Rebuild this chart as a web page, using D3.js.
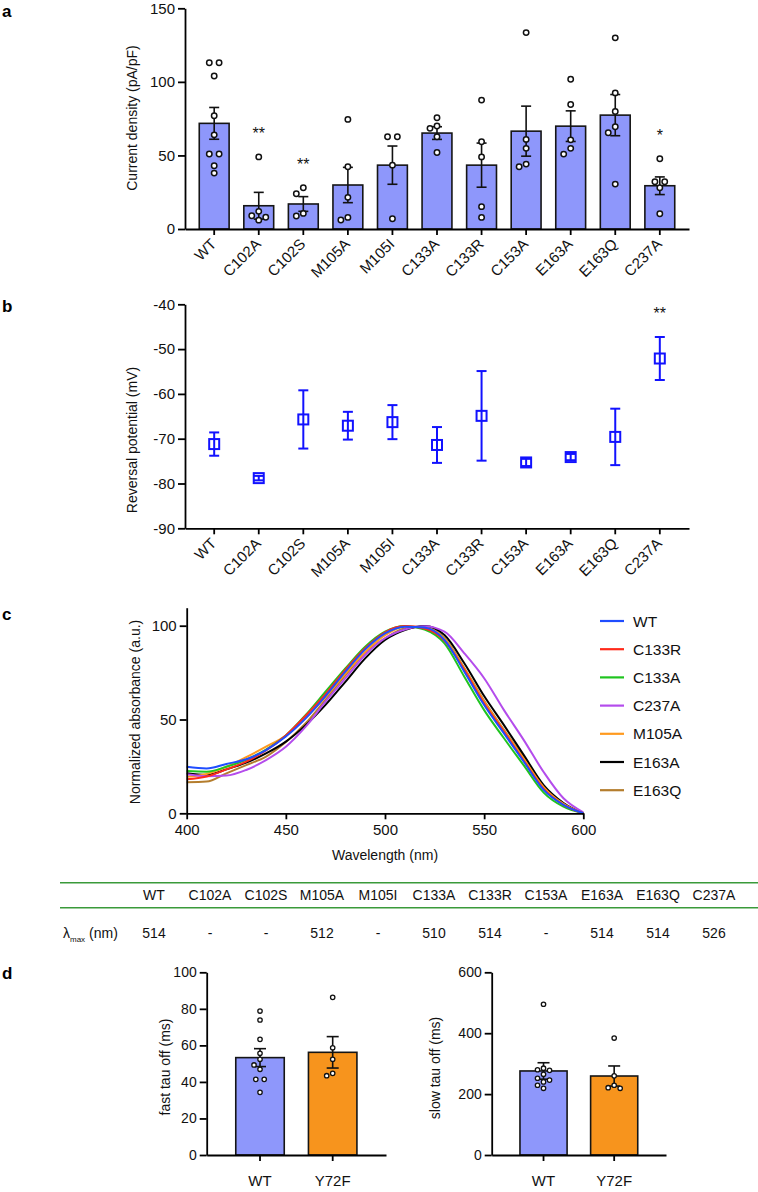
<!DOCTYPE html>
<html lang="en">
<head>
<meta charset="UTF-8">
<title>mutant_currents</title>
<style>
    body { margin: 0; background: #fff; }
    svg text { font-family: "Liberation Sans", Arial, Helvetica, sans-serif; fill: #111; }
</style>
</head>
<body>
<div id="figure"></div>
<script src="https://d3js.org/d3.v7.min.js"></script>
<script>
// ---------- data ----------
var mutants = ["WT", "C102A", "C102S", "M105A", "M105I", "C133A", "C133R", "C153A", "E163A", "E163Q", "C237A"];

// panel a: current density (pA/pF)
var densityMean = [71.8, 15.8, 17.0, 29.9, 43.4, 65.2, 43.4, 66.5, 69.9, 77.4, 29.4];
var densitySem  = [10.8, 9.1, 5.0, 12.0, 13.0, 4.3, 15.0, 17.0, 10.4, 14.0, 6.0];
var densityPoints = [
    [113, 113, 104, 77, 64, 51, 51, 43, 38],
    [49, 12, 9, 8, 6],
    [28, 24, 10.6, 8.8],
    [74.5, 42.3, 21.5, 7.9, 6.1],
    [62.7, 62.7, 43.4, 7],
    [75.6, 70, 68.4, 62.7, 52],
    [87.6, 59.3, 49, 15.2, 7.9],
    [133.5, 60.9, 54.8, 44.1, 42.3],
    [101.8, 84.6, 60.6, 54.8, 50.9],
    [129.9, 92.5, 79.9, 69.5, 65.4, 30.5],
    [47.7, 32.1, 32.1, 28, 10.4]
];
var densitySig = ["", "**", "**", "", "", "", "", "", "", "", "*"];

// panel b: reversal potential (mV)
var revMean = [-71.2, -78.8, -65.7, -67.1, -66.3, -71.4, -64.9, -75.3, -74.1, -69.6, -52.1];
var revSem  = [2.6, 0.5, 6.5, 3.1, 3.8, 4.0, 10.0, 0.8, 0.7, 6.3, 4.8];
var revSig  = ["", "", "", "", "", "", "", "", "", "", "**"];

// panel c: normalized absorbance spectra
var wavelengths = [400, 410, 420, 430, 440, 450, 460, 470, 480, 490, 500, 510, 520, 530, 540, 550, 560, 570, 580, 590, 600];
var absWT    = [24.8, 23.9, 26.3, 28.8, 33.7, 40.9, 50.6, 62.5, 75.5, 87.4, 95.9, 99.5, 99.0, 92.4, 75.5, 57.7, 42.6, 27.5, 12.5, 4.5, 0];
var absC133R = [18.1, 19.6, 23.4, 27.5, 33.5, 41.5, 52.0, 63.5, 76.5, 88.0, 96.5, 99.8, 98.5, 92.0, 76.5, 58.5, 43.5, 28.0, 13.0, 4.5, 0];
var absC133A = [22.5, 22.2, 24.8, 28.5, 34.0, 41.5, 52.4, 64.8, 77.2, 88.8, 96.8, 99.9, 98.0, 90.6, 72.8, 55.0, 40.0, 25.5, 11.0, 3.5, 0];
var absC237A = [20.8, 19.8, 20.1, 23.1, 28.4, 35.5, 46.2, 59.5, 71.9, 84.4, 93.3, 98.0, 99.7, 96.8, 85.3, 72.0, 55.0, 39.0, 22.0, 8.0, 0.5];
var absM105A = [19.5, 21.0, 24.8, 29.9, 35.5, 41.5, 51.0, 62.0, 74.5, 86.0, 95.0, 99.5, 99.0, 93.0, 77.0, 59.5, 44.0, 29.0, 14.0, 5.0, 0];
var absE163A = [21.3, 20.4, 23.4, 27.0, 31.9, 38.2, 47.0, 57.8, 70.1, 82.6, 92.4, 97.7, 99.8, 95.0, 80.0, 62.5, 47.0, 31.0, 15.0, 5.5, 0];
var absE163Q = [16.5, 16.9, 21.3, 25.7, 30.2, 38.0, 48.0, 60.5, 73.5, 85.5, 93.3, 98.5, 99.3, 93.5, 77.5, 60.0, 44.5, 29.5, 14.0, 5.0, 0];
var spectrumNames = ["WT", "C133R", "C133A", "C237A", "M105A", "E163A", "E163Q"];
var spectrumValues = [absWT, absC133R, absC133A, absC237A, absM105A, absE163A, absE163Q];
var spectrumColors = ["#1f4dff", "#ff2a1a", "#1fc41f", "#b44cec", "#ff9a1f", "#000000", "#b47d2d"];

// table: lambda max (nm)
var lambdaMax = ["514", "-", "-", "512", "-", "510", "514", "-", "514", "514", "526"];

// panel d: tau off (ms)
var tauGroups = ["WT", "Y72F"];
var tauColors = ["#8e97fb", "#f7941d"];
var fastMean = [53.3, 56.2];
var fastSem  = [4.9, 8.6];
var fastPoints = [
    [78.8, 73.9, 63.3, 55.7, 52.4, 49.3, 46.9, 41.4, 41.4, 34.3],
    [86.3, 58.7, 52.4, 44.7, 43.4]
];
var slowMean = [276, 259.4];
var slowSem  = [27, 33];
var slowPoints = [
    [495, 285, 280, 278, 265, 252, 246, 240, 229, 219],
    [384, 260, 229, 221, 219]
];

// ---------- drawing ----------
var svg = d3.select("#figure").append("svg")
    .attr("width", 758)
    .attr("height", 1192);

// plain hyphen for negative ticks, like the original
var plainFormat = function(d) { return String(d); };

function panelLetter(letter, y) {
    svg.append("text")
        .attr("x", 2)
        .attr("y", y)
        .style("font-size", "17px")
        .style("font-weight", "bold")
        .style("fill", "#000")
        .text(letter);
}

function axisTitle(text, cx, cy, rotate) {
    svg.append("text")
        .attr("transform", "translate(" + cx + "," + cy + ")" + (rotate ? " rotate(-90)" : ""))
        .attr("text-anchor", "middle")
        .attr("dy", "0.35em")
        .style("font-size", "14px")
        .text(text);
}

function styleAxis(ax, fontSize) {
    ax.attr("font-family", null).attr("font-size", null);
    ax.select(".domain").attr("stroke", "#000").attr("stroke-width", 1.8);
    ax.selectAll(".tick line").attr("stroke", "#000").attr("stroke-width", 1.8);
    ax.selectAll(".tick text").style("font-size", fontSize + "px").attr("fill", "#111");
}

// horizontal spread of the dots so they do not sit on top of each other
function spread(values, y, step, minDist) {
    var placed = [];
    return values.map(function(v, i) {
        var py = y(v);
        var same = values.filter(function(w) { return w === v; }).length;
        var dx;
        if (same > 1) {
            var k = values.slice(0, i).filter(function(w) { return w === v; }).length;
            dx = (k - (same - 1) / 2) * step * 1.4;
        } else {
            var tries = [0, -step, step, -2 * step, 2 * step, -3 * step, 3 * step];
            dx = tries.find(function(t) {
                return placed.every(function(p) { return Math.hypot(p.dx - t, p.py - py) >= minDist; });
            });
            if (dx === undefined) dx = 0;
        }
        placed.push({dx: dx, py: py});
        return {v: v, dx: dx};
    });
}

function rotatedLabels(ax) {
    ax.selectAll(".tick text").remove();
    ax.selectAll(".tick").append("text")
        .attr("transform", "translate(3,16) rotate(-45)")
        .attr("text-anchor", "end")
        .style("font-size", "15px")
        .attr("fill", "#111")
        .text(function(d) { return d; });
}

// bar + dots chart (used for a and d)
function barChart(cfg) {
    var x = d3.scaleBand().domain(cfg.cats).range(cfg.xRange)
        .paddingInner(cfg.padIn).paddingOuter(cfg.padOut);
    var y = d3.scaleLinear().domain(cfg.yDomain).range(cfg.yRange);
    var g = svg.append("g");

    g.selectAll("rect.bar")
        .data(cfg.cats)
        .enter().append("rect")
        .attr("x", function(d) { return x(d); })
        .attr("y", function(d, i) { return y(cfg.mean[i]); })
        .attr("width", x.bandwidth())
        .attr("height", function(d, i) { return y(0) - y(cfg.mean[i]); })
        .attr("fill", function(d, i) { return cfg.fill[i % cfg.fill.length]; })
        .attr("stroke", "#151515")
        .attr("stroke-width", 1.6);

    // error bars (mean +/- sem)
    cfg.cats.forEach(function(c, i) {
        var cx = x(c) + x.bandwidth() / 2;
        var top = y(cfg.mean[i] + cfg.sem[i]), bot = y(cfg.mean[i] - cfg.sem[i]);
        g.append("line").attr("x1", cx).attr("x2", cx).attr("y1", top).attr("y2", bot)
            .attr("stroke", "#111").attr("stroke-width", 1.6);
        [top, bot].forEach(function(yy) {
            g.append("line").attr("x1", cx - cfg.cap).attr("x2", cx + cfg.cap)
                .attr("y1", yy).attr("y2", yy)
                .attr("stroke", "#111").attr("stroke-width", 1.6);
        });
    });

    // individual cells
    cfg.cats.forEach(function(c, i) {
        var cx = x(c) + x.bandwidth() / 2;
        g.selectAll(null)
            .data(spread(cfg.points[i], y, cfg.step, cfg.minDist))
            .enter().append("circle")
            .attr("cx", function(d) { return cx + d.dx; })
            .attr("cy", function(d) { return y(d.v); })
            .attr("r", cfg.r)
            .attr("fill", "#fff")
            .attr("stroke", "#111")
            .attr("stroke-width", cfg.dotStroke);
    });

    // significance marks
    if (cfg.sig) {
        cfg.cats.forEach(function(c, i) {
            if (!cfg.sig[i]) return;
            var topVal = Math.max(d3.max(cfg.points[i]), cfg.mean[i] + cfg.sem[i]);
            g.append("text")
                .attr("x", x(c) + x.bandwidth() / 2)
                .attr("y", y(topVal) - 18)
                .attr("text-anchor", "middle")
                .style("font-size", "16px")
                .text(cfg.sig[i]);
        });
    }

    var yAx = svg.append("g")
        .attr("transform", "translate(" + cfg.xRange[0] + ",0)")
        .call(d3.axisLeft(y).tickValues(cfg.yTicks).tickFormat(plainFormat).tickSize(7).tickSizeOuter(0));
    styleAxis(yAx, cfg.tickFont);

    var xAx = svg.append("g")
        .attr("transform", "translate(0," + cfg.yRange[0] + ")")
        .call(d3.axisBottom(x).tickSize(6).tickSizeOuter(0));
    styleAxis(xAx, cfg.tickFont);
    if (cfg.rotate) rotatedLabels(xAx);
    else xAx.selectAll(".tick text").attr("y", 20).style("font-size", "15px");
}

// ---------- panel a ----------
panelLetter("a", 17);
barChart({
    cats: mutants, mean: densityMean, sem: densitySem, points: densityPoints, sig: densitySig,
    xRange: [185, 689], padIn: 0.33, padOut: 0.32,
    yDomain: [0, 150], yRange: [229, 8.3], yTicks: [0, 50, 100, 150],
    fill: ["#8e97fb"], cap: 5, r: 2.7, dotStroke: 1.5, step: 7, minDist: 7,
    tickFont: 15, rotate: true
});
axisTitle("Current density (pA/pF)", 132, 118, true);

// ---------- panel b ----------
panelLetter("b", 312);
var xB = d3.scaleBand().domain(mutants).range([185, 689]).paddingInner(0.33).paddingOuter(0.32);
var yB = d3.scaleLinear().domain([-90, -40]).range([528.3, 304.3]);
var blue = "#1212ff";
var gB = svg.append("g");
mutants.forEach(function(m, i) {
    var cx = xB(m) + xB.bandwidth() / 2;
    var top = yB(revMean[i] + revSem[i]), bot = yB(revMean[i] - revSem[i]);
    gB.append("line").attr("x1", cx).attr("x2", cx).attr("y1", top).attr("y2", bot)
        .attr("stroke", blue).attr("stroke-width", 2);
    [top, bot].forEach(function(yy) {
        gB.append("line").attr("x1", cx - 5).attr("x2", cx + 5).attr("y1", yy).attr("y2", yy)
            .attr("stroke", blue).attr("stroke-width", 2);
    });
    gB.append("rect")
        .attr("x", cx - 5).attr("y", yB(revMean[i]) - 5)
        .attr("width", 10).attr("height", 10)
        .attr("fill", "none").attr("stroke", blue).attr("stroke-width", 2);
    if (revSig[i]) {
        gB.append("text").attr("x", cx).attr("y", top - 18)
            .attr("text-anchor", "middle").style("font-size", "16px").text(revSig[i]);
    }
});
var yBAx = svg.append("g").attr("transform", "translate(185,0)")
    .call(d3.axisLeft(yB).tickValues([-90, -80, -70, -60, -50, -40]).tickFormat(plainFormat).tickSize(7).tickSizeOuter(0));
styleAxis(yBAx, 15);
var xBAx = svg.append("g").attr("transform", "translate(0,528.3)")
    .call(d3.axisBottom(xB).tickSize(6).tickSizeOuter(0));
styleAxis(xBAx, 15);
rotatedLabels(xBAx);
axisTitle("Reversal potential (mV)", 132, 440, true);

// ---------- panel c ----------
panelLetter("c", 620);
var xC = d3.scaleLinear().domain([400, 600]).range([186.7, 583.3]);
var yC = d3.scaleLinear().domain([0, 109.6]).range([813.3, 607.7]);
var line = d3.line()
    .x(function(d) { return xC(d[0]); })
    .y(function(d) { return yC(d[1]); })
    .curve(d3.curveMonotoneX);
// draw in reverse so WT ends up on top
for (var s = spectrumNames.length - 1; s >= 0; s--) {
    svg.append("path")
        .datum(wavelengths.map(function(w, j) { return [w, spectrumValues[s][j]]; }))
        .attr("d", line)
        .attr("fill", "none")
        .attr("stroke", spectrumColors[s])
        .attr("stroke-width", 2);
}
var yCAx = svg.append("g").attr("transform", "translate(186.7,0)")
    .call(d3.axisLeft(yC).tickValues([0, 50, 100]).tickFormat(plainFormat).tickSize(7).tickSizeOuter(0));
styleAxis(yCAx, 15);
var xCAx = svg.append("g").attr("transform", "translate(0,813.3)")
    .call(d3.axisBottom(xC).tickValues([400, 450, 500, 550, 600]).tickFormat(plainFormat).tickSize(6).tickSizeOuter(0));
styleAxis(xCAx, 15);
xCAx.selectAll(".tick text").attr("y", 11);
axisTitle("Normalized absorbance (a.u.)", 135, 712, true);
axisTitle("Wavelength (nm)", 385, 855, false);

// legend
var legend = svg.append("g").attr("transform", "translate(600,621)");
spectrumNames.forEach(function(n, i) {
    var row = legend.append("g").attr("transform", "translate(0," + (i * 28.2) + ")");
    row.append("line").attr("x1", 0).attr("x2", 24).attr("y1", 0).attr("y2", 0)
        .attr("stroke", spectrumColors[i]).attr("stroke-width", 2.2);
    row.append("text").attr("x", 33).attr("dy", "0.36em")
        .style("font-size", "15.5px").text(n);
});

// ---------- lambda max table ----------
var tableX = d3.scalePoint().domain(mutants).range([154, 714]);
var green = "#3a9a3a";
[882.7, 907.7].forEach(function(yy) {
    svg.append("line").attr("x1", 60).attr("x2", 758).attr("y1", yy).attr("y2", yy)
        .attr("stroke", green).attr("stroke-width", 1.6);
});
svg.selectAll("text.colhead")
    .data(mutants)
    .enter().append("text")
    .attr("x", function(d) { return tableX(d); })
    .attr("y", 900)
    .attr("text-anchor", "middle")
    .style("font-size", "14px")
    .text(function(d) { return d; });
svg.selectAll("text.lmax")
    .data(lambdaMax)
    .enter().append("text")
    .attr("x", function(d, i) { return tableX(mutants[i]); })
    .attr("y", 938)
    .attr("text-anchor", "middle")
    .style("font-size", "14px")
    .text(function(d) { return d; });
var lab = svg.append("text").attr("x", 63).attr("y", 938).style("font-size", "14px");
lab.append("tspan").text("λ");
lab.append("tspan").attr("dy", 4).style("font-size", "8px").text("max");
lab.append("tspan").attr("dy", -4).text(" (nm)");

// ---------- panel d ----------
panelLetter("d", 979);
barChart({
    cats: tauGroups, mean: fastMean, sem: fastSem, points: fastPoints,
    xRange: [206.7, 386], padIn: 0.333, padOut: 0.4,
    yDomain: [0, 100], yRange: [1155, 972.3], yTicks: [0, 20, 40, 60, 80, 100],
    fill: tauColors, cap: 6, r: 2.2, dotStroke: 1.3, step: 6, minDist: 6,
    tickFont: 14, rotate: false
});
axisTitle("fast tau off (ms)", 165, 1067, true);

barChart({
    cats: tauGroups, mean: slowMean, sem: slowSem, points: slowPoints,
    xRange: [491.7, 666], padIn: 0.333, padOut: 0.4,
    yDomain: [0, 600], yRange: [1155, 972.3], yTicks: [0, 200, 400, 600],
    fill: tauColors, cap: 6, r: 2.2, dotStroke: 1.3, step: 6, minDist: 6,
    tickFont: 14, rotate: false
});
axisTitle("slow tau off (ms)", 435, 1068, true);
</script>
</body>
</html>
